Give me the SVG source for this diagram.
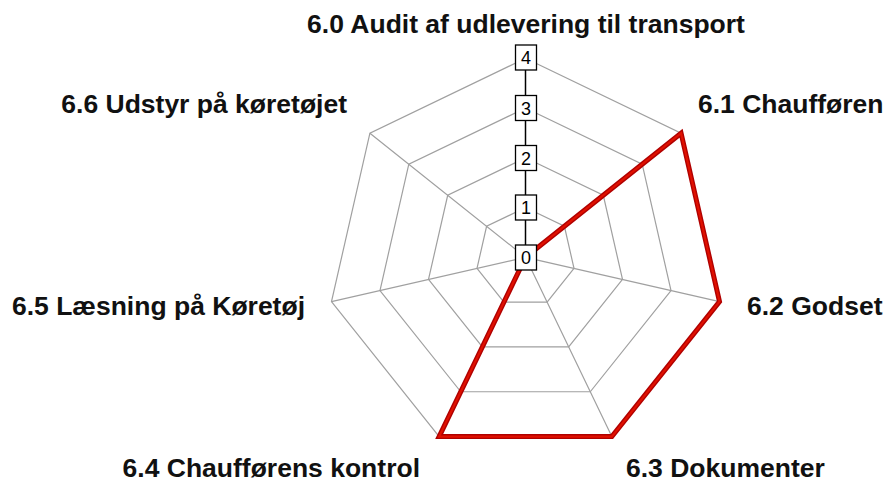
<svg xmlns="http://www.w3.org/2000/svg" width="888" height="485" viewBox="0 0 888 485">
<style>
.grid{fill:none;stroke:#a0a0a0;stroke-width:1.2}
.lbl{font-family:"Liberation Sans",Arial,sans-serif;font-weight:bold;font-size:26.5px;fill:#111}
.tick rect{fill:#fff;stroke:#000;stroke-width:1.3}
.tick text{font-family:"Liberation Sans",Arial,sans-serif;font-size:18px;fill:#000;text-anchor:middle}
</style>
<rect width="888" height="485" fill="#fff"/>
<g id="grid">
<polygon class="grid" points="525.5,58.3 681.08,133.23 719.51,301.58 611.84,436.59 439.16,436.59 331.49,301.58 369.92,133.23"/>
<polygon class="grid" points="525.5,108.05 642.19,164.24 671.01,290.51 590.26,391.77 460.74,391.77 379.99,290.51 408.81,164.24"/>
<polygon class="grid" points="525.5,157.8 603.29,195.26 622.5,279.44 568.67,346.95 482.33,346.95 428.5,279.44 447.71,195.26"/>
<polygon class="grid" points="525.5,207.55 564.4,226.28 574,268.37 547.09,302.12 503.91,302.12 477,268.37 486.6,226.28"/>
<path class="grid" d="M525.5,257.3L681.08,133.23M525.5,257.3L719.51,301.58M525.5,257.3L611.84,436.59M525.5,257.3L439.16,436.59M525.5,257.3L331.49,301.58M525.5,257.3L369.92,133.23"/>
</g>
<g id="connectors">
<polygon points="525.5,257.3 681.08,133.23 719.51,301.58 611.84,436.59 439.16,436.59" fill="none" stroke="#b00000" stroke-width="5" stroke-linejoin="miter"/>
<polygon points="525.5,257.3 681.08,133.23 719.51,301.58 611.84,436.59 439.16,436.59" fill="none" stroke="#e01000" stroke-width="2.2" stroke-linejoin="miter"/>
</g>
<g id="axis" class="tick">
<line x1="525.5" y1="257.3" x2="525.5" y2="58.3" stroke="#000" stroke-width="1.5"/>
<rect x="515.5" y="245" width="21" height="25"/><text x="526" y="264">0</text>
<rect x="515.5" y="195" width="21" height="25"/><text x="526" y="214">1</text>
<rect x="515.5" y="145.5" width="21" height="25"/><text x="526" y="164.5">2</text>
<rect x="515.5" y="95.5" width="21" height="25"/><text x="526" y="114.5">3</text>
<rect x="515.5" y="45" width="21" height="25"/><text x="526" y="64">4</text>
</g>
<g id="n60"><text class="lbl" x="526" y="33" text-anchor="middle">6.0 Audit af udlevering til transport</text></g>
<g id="n61"><text class="lbl" x="698" y="113">6.1 Chaufføren</text></g>
<g id="n62"><text class="lbl" x="747" y="315">6.2 Godset</text></g>
<g id="n63"><text class="lbl" x="626" y="477">6.3 Dokumenter</text></g>
<g id="n64"><text class="lbl" x="420" y="477" text-anchor="end">6.4 Chaufførens kontrol</text></g>
<g id="n65"><text class="lbl" x="305" y="315" text-anchor="end">6.5 Læsning på Køretøj</text></g>
<g id="n66"><text class="lbl" x="347" y="113" text-anchor="end">6.6 Udstyr på køretøjet</text></g>
</svg>
